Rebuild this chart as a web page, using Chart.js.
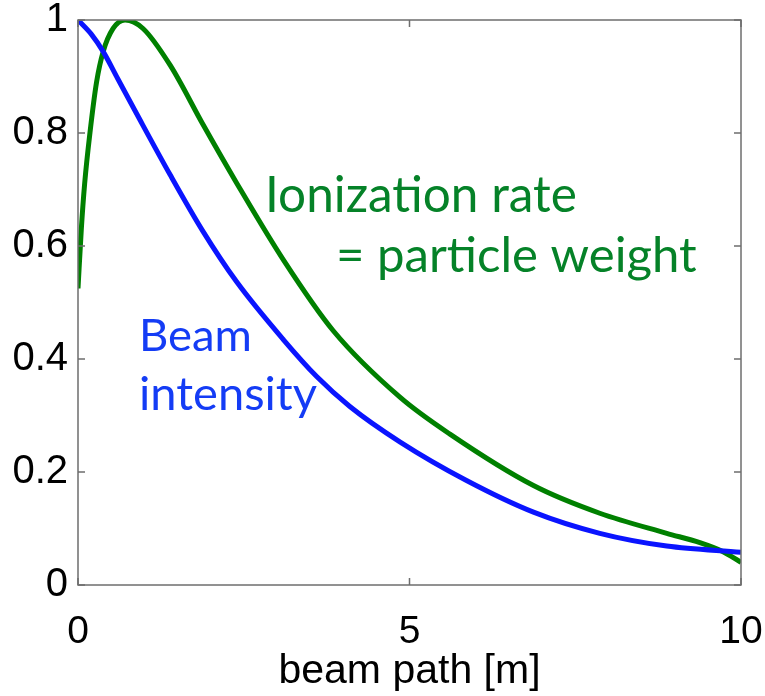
<!DOCTYPE html>
<html>
<head>
<meta charset="utf-8">
<script src="https://cdn.jsdelivr.net/npm/chart.js@4/dist/chart.umd.min.js"></script>
<style>
  html, body { margin: 0; padding: 0; background: #fff; }
  #wrap { width: 765px; height: 696px; }
</style>
</head>
<body>
<div id="wrap"><canvas id="beamChart" width="765" height="696"></canvas></div>
<script>
// values
const beamX = [0, 0.2, 0.38, 0.6, 0.885, 1.39, 1.89, 2.39, 3.1, 3.6, 4.1, 4.86, 5.86, 6.87, 7.87, 8.88, 10];
const beamIntensity = [1.0, 0.975, 0.944, 0.896, 0.834, 0.726, 0.625, 0.537, 0.434, 0.369, 0.316, 0.253, 0.185, 0.129, 0.0915, 0.069, 0.058];

const ionX = [0, 0.05, 0.1, 0.18, 0.28, 0.38, 0.53, 0.71, 0.98, 1.39, 1.89, 2.39, 3.1, 3.85, 4.86, 5.61, 6.87, 7.87, 8.88, 9.38, 9.73, 10];
const ionRate = [0.525, 0.63, 0.71, 0.80, 0.89, 0.944, 0.985, 1.0, 0.985, 0.92, 0.814, 0.712, 0.575, 0.45, 0.332, 0.267, 0.176, 0.127, 0.0915, 0.075, 0.059, 0.04];

const xTicks = [0, 5, 10];
const yTicks = [0, 0.2, 0.4, 0.6, 0.8, 1];
const yTickLabels = ['0', '0.2', '0.4', '0.6', '0.8', '1'];

const toPoints = (xs, ys) => xs.map((x, i) => ({ x: x, y: ys[i] }));

// box around the plot + inward tick marks, matlab style
const boxPlugin = {
  id: 'boxTicks',
  afterDatasetsDraw(chart) {
    const { ctx, chartArea: a, scales } = chart;
    ctx.save();
    ctx.strokeStyle = '#6e6e6e';
    ctx.lineWidth = 1.5;
    ctx.strokeRect(a.left, a.top, a.right - a.left, a.bottom - a.top);
    ctx.beginPath();
    yTicks.forEach(v => {
      const py = scales.y.getPixelForValue(v);
      ctx.moveTo(a.left, py); ctx.lineTo(a.left + 7, py);
      ctx.moveTo(a.right, py); ctx.lineTo(a.right - 7, py);
    });
    xTicks.forEach(v => {
      const px = scales.x.getPixelForValue(v);
      ctx.moveTo(px, a.bottom); ctx.lineTo(px, a.bottom - 7);
      ctx.moveTo(px, a.top); ctx.lineTo(px, a.top + 7);
    });
    ctx.stroke();
    ctx.restore();
  }
};

// the text labels inside the plot
const notes = [
  { text: 'Ionization rate', x: 265, y: 212, w: 312, color: 'rgb(5,130,40)' },
  { text: '= particle weight', x: 336, y: 272, w: 361, color: 'rgb(5,130,40)' },
  { text: 'Beam', x: 139, y: 351, w: 113, color: 'rgb(20,60,245)' },
  { text: 'intensity', x: 139, y: 410, w: 178, color: 'rgb(20,60,245)' }
];
const notePlugin = {
  id: 'notes',
  afterDraw(chart) {
    const ctx = chart.ctx;
    ctx.save();
    ctx.textBaseline = 'alphabetic';
    ctx.textAlign = 'left';
    notes.forEach(n => {
      ctx.font = '40px Lato';
      const size = 40 * n.w / ctx.measureText(n.text).width;
      ctx.font = size.toFixed(1) + 'px Lato';
      ctx.fillStyle = n.color;
      ctx.fillText(n.text, n.x, n.y);
    });
    ctx.restore();
  }
};

const ctx = document.getElementById('beamChart').getContext('2d');
new Chart(ctx, {
  type: 'line',
  data: {
    datasets: [
      {
        label: 'Beam intensity',
        data: toPoints(beamX, beamIntensity),
        borderColor: 'rgb(10,20,255)',
        borderWidth: 5,
        pointRadius: 0,
        cubicInterpolationMode: 'monotone',
        fill: false
      },
      {
        label: 'Ionization rate',
        data: toPoints(ionX, ionRate),
        borderColor: 'rgb(0,128,0)',
        borderWidth: 5,
        pointRadius: 0,
        cubicInterpolationMode: 'monotone',
        fill: false
      }
    ]
  },
  options: {
    responsive: false,
    animation: false,
    layout: { padding: { top: 20, right: 24, left: 0, bottom: 0 } },
    plugins: {
      legend: { display: false },
      tooltip: { enabled: false }
    },
    scales: {
      x: {
        type: 'linear',
        min: 0,
        max: 10,
        afterFit(scale) {
          scale.height = 111;
          scale.paddingLeft = 0;
          scale.paddingRight = 0;
        },
        afterBuildTicks(scale) { scale.ticks = xTicks.map(v => ({ value: v })); },
        grid: { display: false, drawTicks: false },
        border: { display: false },
        ticks: {
          padding: 24,
          color: '#000',
          font: { family: 'Liberation Sans', size: 39 }
        },
        title: {
          display: true,
          text: 'beam path [m]',
          color: '#000',
          font: { family: 'Liberation Sans', size: 41 },
          padding: { top: 0, bottom: 0 }
        }
      },
      y: {
        type: 'linear',
        min: 0,
        max: 1,
        afterFit(scale) {
          scale.width = 78;
          scale.paddingTop = 0;
          scale.paddingBottom = 0;
        },
        afterBuildTicks(scale) { scale.ticks = yTicks.map(v => ({ value: v })); },
        grid: { display: false, drawTicks: false },
        border: { display: false },
        ticks: {
          padding: 10,
          color: '#000',
          font: { family: 'Liberation Sans', size: 40 },
          callback: (v) => yTickLabels[yTicks.indexOf(v)]
        }
      }
    }
  },
  plugins: [boxPlugin, notePlugin]
});
</script>
</body>
</html>
